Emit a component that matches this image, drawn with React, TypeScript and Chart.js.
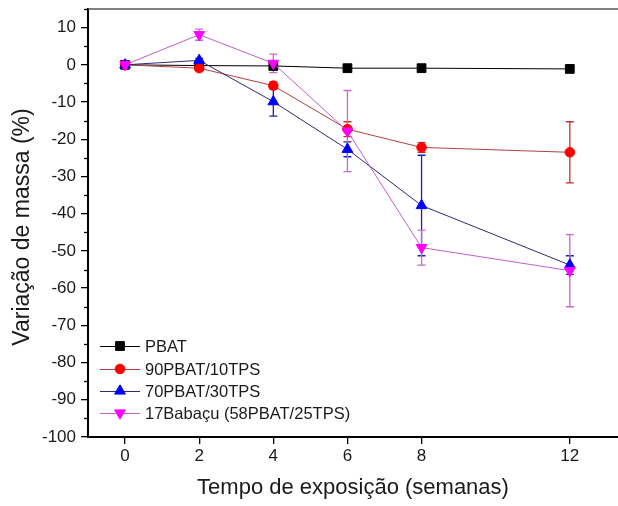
import React, { useEffect, useRef } from 'react';
import { Chart, registerables } from 'chart.js';

Chart.register(...registerables);

// ---- data ----
const weeks = [0, 2, 4, 6, 8, 12];
const xTickValues = [0, 2, 4, 6, 8, 12];
const yTickValues = [-100, -90, -80, -70, -60, -50, -40, -30, -20, -10, 0, 10];
const yMinorTickValues = [-95, -85, -75, -65, -55, -45, -35, -25, -15, -5, 5, 15];

const seriesNames = ['PBAT', '90PBAT/10TPS', '70PBAT/30TPS', '17Babaçu (58PBAT/25TPS)'];
const pbat = [0, -0.2, -0.3, -0.9, -0.9, -1.1];
const pbat90 = [0, -0.9, -5.6, -17.3, -22.2, -23.5];
const pbat70 = [0, 1.2, -9.9, -22.7, -37.8, -53.8];
const babacu = [0, 8.1, 0.4, -17.8, -49.1, -55.3];

const pbatErr = [0, 0, 0, 0, 0, 0];
const pbat90Err = [0, 0.5, 1, 2, 1.3, 8.2];
const pbat70Err = [0, 0.5, 3.9, 2, 13.5, 2.5];
const babacuErr = [0, 1.5, 2.5, 10.9, 4.7, 9.7];

const FONT = '"Liberation Sans", Arial, sans-serif';

type Style = {
  marker: string; fill: string; line: string; err: string; radius: number; rotation: number;
};
const styles: Style[] = [
  { marker: 'rect', fill: '#000000', line: '#000000', err: '#000000', radius: 6.2, rotation: 0 },
  { marker: 'circle', fill: '#ff0000', line: '#b04040', err: '#c83030', radius: 4.8, rotation: 0 },
  { marker: 'triangle', fill: '#0000ff', line: '#2a2a78', err: '#2020b0', radius: 6.2, rotation: 0 },
  { marker: 'triangle', fill: '#ff00ff', line: '#c060c8', err: '#c868c8', radius: 6.2, rotation: 180 },
];
const values = [pbat, pbat90, pbat70, babacu];
const errors = [pbatErr, pbat90Err, pbat70Err, babacuErr];

function drawMarker(ctx: CanvasRenderingContext2D, kind: string, x: number, y: number, r: number, rot: number, color: string) {
  ctx.save();
  ctx.fillStyle = color;
  ctx.strokeStyle = color;
  ctx.lineWidth = 1;
  ctx.beginPath();
  if (kind === 'rect') {
    const s = Math.SQRT1_2 * r;
    ctx.rect(x - s, y - s, 2 * s, 2 * s);
  } else if (kind === 'circle') {
    ctx.arc(x, y, r, 0, Math.PI * 2);
  } else {
    let a = (rot * Math.PI) / 180;
    ctx.moveTo(x + Math.sin(a) * r, y - Math.cos(a) * r);
    a += (2 * Math.PI) / 3;
    ctx.lineTo(x + Math.sin(a) * r, y - Math.cos(a) * r);
    a += (2 * Math.PI) / 3;
    ctx.lineTo(x + Math.sin(a) * r, y - Math.cos(a) * r);
    ctx.closePath();
  }
  ctx.fill();
  ctx.stroke();
  ctx.restore();
}

const decorPlugin = {
  id: 'decor',
  beforeDatasetsDraw(chart: any) {
    const ctx = chart.ctx as CanvasRenderingContext2D;
    const xs = chart.scales.x;
    const ys = chart.scales.y;
    ctx.save();
    for (let d = 0; d < values.length; d++) {
      ctx.strokeStyle = styles[d].err;
      ctx.lineWidth = 1.3;
      for (let i = 0; i < weeks.length; i++) {
        const e = errors[d][i];
        if (!e) continue;
        const px = xs.getPixelForValue(weeks[i]);
        const top = ys.getPixelForValue(values[d][i] + e);
        const bot = ys.getPixelForValue(values[d][i] - e);
        ctx.beginPath();
        ctx.moveTo(px, top);
        ctx.lineTo(px, bot);
        ctx.moveTo(px - 4, top);
        ctx.lineTo(px + 4, top);
        ctx.moveTo(px - 4, bot);
        ctx.lineTo(px + 4, bot);
        ctx.stroke();
      }
    }
    ctx.restore();
  },
  afterDraw(chart: any) {
    const ctx = chart.ctx as CanvasRenderingContext2D;
    const area = chart.chartArea;
    const ys = chart.scales.y;
    ctx.save();
    // top frame line
    ctx.strokeStyle = '#555555';
    ctx.lineWidth = 1.5;
    ctx.beginPath();
    ctx.moveTo(area.left, area.top);
    ctx.lineTo(area.right, area.top);
    ctx.stroke();
    // minor ticks on y
    ctx.strokeStyle = '#000000';
    ctx.lineWidth = 1.3;
    for (const v of yMinorTickValues) {
      const py = Math.round(ys.getPixelForValue(v)) + 0.5;
      ctx.beginPath();
      ctx.moveTo(area.left - 4, py);
      ctx.lineTo(area.left, py);
      ctx.stroke();
    }
    // axis titles
    ctx.fillStyle = '#1a1a1a';
    ctx.textAlign = 'center';
    ctx.textBaseline = 'middle';
    ctx.font = `22px ${FONT}`;
    ctx.fillText('Tempo de exposição (semanas)', (area.left + area.right) / 2, 488);
    ctx.save();
    ctx.translate(23, 227);
    ctx.rotate(-Math.PI / 2);
    ctx.font = `23px ${FONT}`;
    ctx.fillText('Variação de massa (%)', 0, 0);
    ctx.restore();
    // legend
    const rows = [346, 369, 391, 413];
    ctx.font = `16.5px ${FONT}`;
    ctx.textAlign = 'left';
    for (let d = 0; d < seriesNames.length; d++) {
      const y = rows[d];
      ctx.strokeStyle = styles[d].line;
      ctx.lineWidth = 1;
      ctx.beginPath();
      ctx.moveTo(100, y + 0.5);
      ctx.lineTo(140, y + 0.5);
      ctx.stroke();
      drawMarker(ctx, styles[d].marker, 120, y, styles[d].radius, styles[d].rotation, styles[d].fill);
      ctx.fillStyle = '#1a1a1a';
      ctx.fillText(seriesNames[d], 145, y + 1);
    }
    ctx.restore();
  },
};

export default function App() {
  const canvasRef = useRef<HTMLCanvasElement | null>(null);

  useEffect(() => {
    const canvas = canvasRef.current;
    if (!canvas) return;
    const datasets = values.map((vals, d) => ({
      label: seriesNames[d],
      data: weeks.map((w, i) => ({ x: w, y: vals[i] })),
      borderColor: styles[d].line,
      borderWidth: 1,
      backgroundColor: styles[d].fill,
      pointBackgroundColor: styles[d].fill,
      pointBorderColor: styles[d].fill,
      pointBorderWidth: 1,
      pointStyle: styles[d].marker,
      pointRadius: styles[d].radius,
      pointRotation: styles[d].rotation,
      tension: 0,
      order: values.length - d,
    }));

    const chart = new Chart(canvas, {
      type: 'line',
      data: { datasets },
      options: {
        animation: false,
        responsive: false,
        events: [],
        layout: { autoPadding: false, padding: { top: 9, right: 0, left: 0, bottom: 0 } },
        plugins: { legend: { display: false }, tooltip: { enabled: false }, title: { display: false } },
        scales: {
          x: {
            type: 'linear',
            min: -1,
            max: 13.3,
            afterBuildTicks: (scale: any) => {
              scale.ticks = xTickValues.map((v) => ({ value: v }));
            },
            afterFit: (scale: any) => {
              scale.height = 69;
              scale.paddingLeft = 0;
              scale.paddingRight = 0;
            },
            border: { display: true, color: '#000000', width: 2 },
            grid: { drawOnChartArea: false, drawTicks: true, tickLength: 7, color: '#000000', lineWidth: 1.3 },
            ticks: {
              color: '#1a1a1a',
              font: { family: FONT, size: 17 },
              padding: 2,
              maxRotation: 0,
              autoSkip: false,
            },
          },
          y: {
            type: 'linear',
            min: -100,
            max: 15,
            afterBuildTicks: (scale: any) => {
              scale.ticks = yTickValues.map((v) => ({ value: v }));
            },
            afterFit: (scale: any) => {
              scale.width = 88;
              scale.paddingTop = 0;
              scale.paddingBottom = 0;
            },
            border: { display: true, color: '#000000', width: 2 },
            grid: { drawOnChartArea: false, drawTicks: true, tickLength: 7, color: '#000000', lineWidth: 1.3 },
            ticks: {
              color: '#1a1a1a',
              font: { family: FONT, size: 17 },
              padding: 5,
              autoSkip: false,
            },
          },
        },
      },
      plugins: [decorPlugin],
    } as any);
    return () => chart.destroy();
  }, []);

  return (
    <div style={{ position: 'fixed', left: 0, top: 0, width: 618, height: 506, background: '#ffffff' }}>
      <canvas ref={canvasRef} width={618} height={506} style={{ display: 'block', width: 618, height: 506 }} />
    </div>
  );
}
